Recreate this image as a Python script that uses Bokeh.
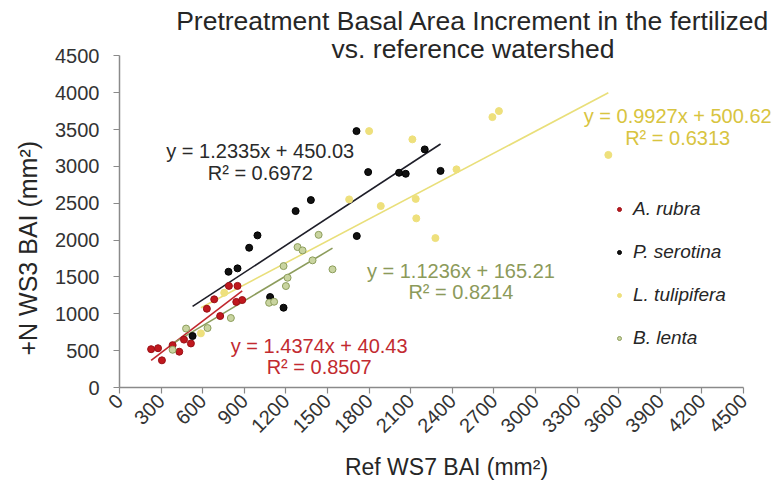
import math
from bokeh.plotting import figure
from bokeh.models import Label, Legend, LegendItem, ColumnDataSource, FixedTicker, Title
from bokeh.embed import file_html
from bokeh.resources import INLINE

# ---- data ----
rubra_x = [228, 278, 306, 383, 431, 465, 515, 630, 726, 683, 789, 851, 842, 885]
rubra_y = [520, 533, 369, 575, 486, 650, 598, 1069, 970, 1197, 1379, 1379, 1162, 1187]

serotina_x = [527, 786, 851, 935, 995, 1086, 1183, 1270, 1380, 1711, 1709, 1793, 2016, 2064, 2201, 2315]
serotina_y = [699, 1571, 1617, 1897, 2065, 1228, 1083, 2395, 2544, 2056, 3480, 2924, 2915, 2901, 3232, 2940]

tulip_x = [587, 755, 1656, 1800, 1884, 2112, 2136, 2140, 2278, 2430, 2689, 2736, 3525]
tulip_y = [735, 1286, 2553, 3480, 2463, 3368, 2560, 2296, 2028, 2961, 3670, 3752, 3157]

lenta_x = [383, 480, 635, 803, 1079, 1115, 1183, 1200, 1212, 1284, 1320, 1392, 1436, 1536]
lenta_y = [512, 800, 807, 943, 1150, 1164, 1648, 1377, 1490, 1906, 1861, 1726, 2072, 1604]

species = ["A. rubra", "P. serotina", "L. tulipifera", "B. lenta"]
slopes = [1.4374, 1.2335, 0.9927, 1.1236]
intercepts = [40.43, 450.03, 500.62, 165.21]
r2 = ["0.8507", "0.6972", "0.6313", "0.8214"]
eq_text = ["y = 1.4374x + 40.43", "y = 1.2335x + 450.03", "y = 0.9927x + 500.62", "y = 1.1236x + 165.21"]

ticks = list(range(0, 4501, 300))
yticks = list(range(0, 4501, 500))

FONT = "Liberation Sans"

# frame spans the whole area right of / above the axes so that texts are not clipped;
# axes are bounded to 0..4500
p = figure(width=773, height=489, x_range=(0, 4716), y_range=(0, 5253),
           output_backend="svg", toolbar_location=None,
           min_border_left=118, min_border_right=0, min_border_top=0, min_border_bottom=102)
p.outline_line_color = None
p.grid.visible = False
p.background_fill_color = "white"

for ax in (p.xaxis[0], p.yaxis[0]):
    ax.bounds = (0, 4500)
    ax.axis_line_color = "#8a8a8a"
    ax.axis_line_width = 1.5
    ax.major_tick_line_color = "#8a8a8a"
    ax.major_tick_line_width = 1.2
    ax.major_tick_out = 6
    ax.major_tick_in = 0
    ax.minor_tick_line_color = None
    ax.major_label_text_font = FONT
    ax.major_label_text_font_size = "20px"
    ax.major_label_text_color = "#333333"
    ax.axis_label_text_font = FONT
    ax.axis_label_text_font_size = "23px"
    ax.axis_label_text_font_style = "normal"
    ax.axis_label_text_color = "#262626"

p.xaxis.ticker = FixedTicker(ticks=ticks)
p.yaxis.ticker = FixedTicker(ticks=yticks)
p.xaxis.major_label_orientation = math.pi / 4
p.xaxis.axis_label = "Ref WS7 BAI (mm²)"
p.yaxis.major_label_standoff = 14
p.xaxis.major_label_standoff = 4
p.xaxis.axis_label_standoff = 12

ytitle = Title(text="+N WS3 BAI (mm²)", align="left", offset=32, standoff=22,
               text_font=FONT, text_font_size="25px", text_font_style="normal",
               text_color="#262626")
p.add_layout(ytitle, "left")

xs_all = [rubra_x, serotina_x, tulip_x, lenta_x]
ys_all = [rubra_y, serotina_y, tulip_y, lenta_y]
fills = ["#c0181e", "#111111", "#eee07c", "#c9d4a0"]
outlines = ["#9a1016", "#000000", "#eee07c", "#8d9e5c"]
line_cols = ["#c0272d", "#1e1e28", "#e9df7a", "#8c9c5c"]
text_cols = ["#c22a30", "#2a2a2a", "#d8c440", "#8c9a5a"]

for i in range(4):
    x0, x1 = min(xs_all[i]), max(xs_all[i])
    p.line([x0, x1], [slopes[i] * x0 + intercepts[i], slopes[i] * x1 + intercepts[i]],
           line_color=line_cols[i], line_width=1.6)

renderers = []
for i in range(4):
    src = ColumnDataSource(dict(x=xs_all[i], y=ys_all[i]))
    r = p.scatter("x", "y", source=src, size=7, fill_color=fills[i],
                  line_color=outlines[i], line_width=1)
    renderers.append(r)

legend = Legend(items=[LegendItem(label=species[i], renderers=[renderers[i]]) for i in range(4)],
                location=(495, 38))
legend.label_text_font = FONT
legend.label_text_font_style = "italic"
legend.label_text_font_size = "19px"
legend.label_text_color = "#262626"
legend.glyph_width = 10
legend.glyph_height = 20
legend.label_height = 20
legend.spacing = 21
legend.label_standoff = 9
legend.padding = 0
legend.margin = 0
legend.border_line_color = None
legend.background_fill_alpha = 0
p.add_layout(legend)

# equation labels (data coordinates)
eq_pos = [(1440, 570, 276), (1015, 3204, 2905), (4025, 3692, 3389), (2462, 1588, 1294)]
for i in range(4):
    x, y1, y2 = eq_pos[i]
    p.add_layout(Label(x=x, y=y1, text=eq_text[i], text_align="center", text_baseline="middle",
                       text_font=FONT, text_font_size="20px", text_color=text_cols[i]))
    p.add_layout(Label(x=x, y=y2, text="R² = " + r2[i], text_align="center", text_baseline="middle",
                       text_font=FONT, text_font_size="20px", text_color=text_cols[i]))

# title (two centred lines)
p.add_layout(Label(x=2549, y=4968, text="Pretreatment Basal Area Increment in the fertilized",
                   text_align="center", text_baseline="middle", text_font=FONT,
                   text_font_size="26.5px", text_color="#262626"))
p.add_layout(Label(x=2549, y=4588, text="vs. reference watershed",
                   text_align="center", text_baseline="middle", text_font=FONT,
                   text_font_size="26.5px", text_color="#262626"))

open("out.html", "w").write(file_html(p, INLINE))
